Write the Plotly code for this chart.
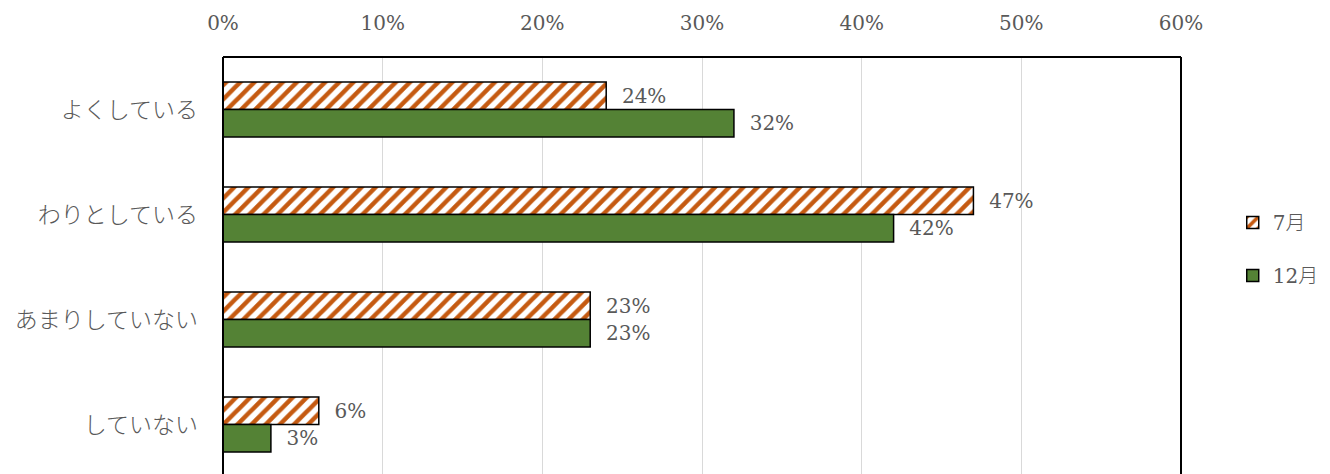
import plotly.graph_objects as go

categories = ["よくしている", "わりとしている", "あまりしていない", "していない"]
july = [0.24, 0.47, 0.23, 0.06]
december = [0.32, 0.42, 0.23, 0.03]
x_ticks = [0, 0.1, 0.2, 0.3, 0.4, 0.5, 0.6]
x_tick_labels = ["0%", "10%", "20%", "30%", "40%", "50%", "60%"]

FONT = "DejaVu Serif, Noto Sans CJK JP, serif"
GRAY = "#595959"
ORANGE = "#C55A11"
GREEN = "#548235"


def pct_labels(values):
    # leading spaces keep the label clear of the bar end
    return [f"  {v*100:.0f}%" for v in values]


fig = go.Figure()
fig.add_trace(go.Bar(
    name="7月", y=categories, x=july, orientation="h",
    marker=dict(color="white", line=dict(color="black", width=1.5),
                pattern=dict(shape="/", fgcolor=ORANGE, bgcolor="white",
                             fgopacity=1, size=10, solidity=0.45)),
    text=pct_labels(july), textposition="outside",
    textfont=dict(family=FONT, size=20, color=GRAY),
    cliponaxis=False, legendgroup="a",
))
fig.add_trace(go.Bar(
    name="12月", y=categories, x=december, orientation="h",
    marker=dict(color=GREEN, line=dict(color="black", width=1.5)),
    text=pct_labels(december), textposition="outside",
    textfont=dict(family=FONT, size=20, color=GRAY),
    cliponaxis=False, legendgroup="b",
))

fig.update_layout(
    width=1330, height=474,
    margin=dict(l=223, r=149, t=57, b=0, autoexpand=False),
    paper_bgcolor="white", plot_bgcolor="white",
    barmode="group", bargap=0.475, bargroupgap=0,
    font=dict(family=FONT, size=20, color=GRAY),
    showlegend=True,
    legend=dict(x=1.054, xanchor="left", y=0.65, yanchor="top",
                font=dict(family=FONT, size=20, color=GRAY, weight=300),
                tracegroupgap=24, traceorder="grouped",
                itemwidth=30,
                bgcolor="rgba(0,0,0,0)"),
    xaxis=dict(side="top", range=[0, 0.6], tickvals=x_ticks,
               ticktext=x_tick_labels, showgrid=True, gridcolor="#D9D9D9",
               gridwidth=1, zeroline=False, showline=False, ticks="",
               ticklabelstandoff=22, automargin=False,
               tickfont=dict(family=FONT, size=20, color=GRAY)),
    yaxis=dict(range=[3.471, -0.5], showgrid=False, zeroline=False,
               showline=False, ticks="", ticklabelstandoff=24,
               automargin=False,
               tickfont=dict(family=FONT, size=23, color=GRAY, weight=300)),
    shapes=[
        dict(type="line", xref="paper", yref="paper", x0=0, x1=0, y0=0, y1=1,
             line=dict(color="black", width=2)),
        dict(type="line", xref="paper", yref="paper", x0=0, x1=1, y0=1, y1=1,
             line=dict(color="black", width=2)),
        dict(type="line", xref="paper", yref="paper", x0=1, x1=1, y0=0, y1=1,
             line=dict(color="black", width=2)),
    ],
)

fig.write_html("out.html")
